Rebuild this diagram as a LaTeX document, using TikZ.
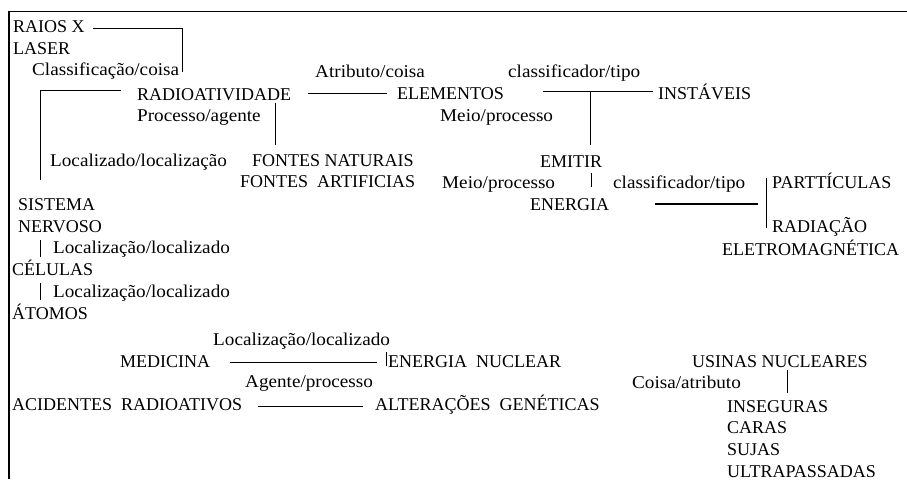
\documentclass[tikz,border=0pt]{standalone}
\usepackage{fontspec}
\setmainfont{Liberation Serif}
\newfontfamily\lblfont[FakeStretch=1.065]{Liberation Serif}
\begin{document}
\begin{tikzpicture}[x=1pt,y=-1pt,
  txt/.style={anchor=base west,inner sep=0pt,font=\fontsize{18}{21}\selectfont},
  lbl/.style={txt,font=\lblfont\fontsize{18}{21}\selectfont},
  ln/.style={line width=1pt},
  thickln/.style={line width=2pt}]
\useasboundingbox (0,0) rectangle (907,479);
\fill[white] (0,0) rectangle (907,479);
\draw[line width=1.3pt] (9,479) -- (9,11.5) -- (907,11.5);

% top-left group
\node[txt] (raios) at (13,32) {RAIOS X};
\node[txt] (laser) at (13,54) {LASER};
\node[lbl] (lclass) at (32,75) {Classificação/coisa};
\node[txt] (radio) at (137,100) {RADIOATIVIDADE};
\node[lbl] (lproc) at (137,121) {Processo/agente};
\node[lbl] (lloc1) at (50,166) {Localizado/localização};
\node[txt] (fnat) at (252,166) {FONTES NATURAIS};
\node[txt] (fart) at (240,187) {FONTES\ \ ARTIFICIAS};
\node[txt] (sist) at (18,210) {SISTEMA};
\node[txt] (nerv) at (18,232) {NERVOSO};
\node[lbl] (lloc2) at (53,253) {Localização/localizado};
\node[txt] (cel) at (12,275) {CÉLULAS};
\node[lbl] (lloc3) at (53,297) {Localização/localizado};
\node[txt] (atom) at (12,319) {ÁTOMOS};

% middle top
\node[lbl] (latr) at (315,77) {Atributo/coisa};
\node[txt] (elem) at (397,99) {ELEMENTOS};
\node[lbl] (lmeio1) at (440,121) {Meio/processo};
\node[lbl] (lclt1) at (508,77) {classificador/tipo};
\node[txt] (inst) at (658,99) {INSTÁVEIS};
\node[txt] (emit) at (540,167) {EMITIR};
\node[lbl] (lmeio2) at (442,188) {Meio/processo};
\node[lbl] (lclt2) at (613,188) {classificador/tipo};
\node[txt] (ener) at (530,210) {ENERGIA};
\node[txt] (part) at (772,188) {PARTTÍCULAS};
\node[txt] (rad) at (772,232) {RADIAÇÃO};
\node[txt] (eletro) at (722,255) {ELETROMAGNÉTICA};

% bottom
\node[lbl] (lloc4) at (213,345) {Localização/localizado};
\node[txt] (med) at (120,367) {MEDICINA};
\node[txt] (enuc) at (388,367) {ENERGIA\ \ NUCLEAR};
\node[lbl] (lagen) at (245,387) {Agente/processo};
\node[txt] (acid) at (12,410) {ACIDENTES\ \ RADIOATIVOS};
\node[txt] (alter) at (375,410) {ALTERAÇÕES\ \ GENÉTICAS};
\node[txt] (usinas) at (692,367) {USINAS NUCLEARES};
\node[lbl] (lcoisa) at (632,388) {Coisa/atributo};
\node[txt] (inseg) at (727,412) {INSEGURAS};
\node[txt] (caras) at (727,433) {CARAS};
\node[txt] (sujas) at (727,455) {SUJAS};
\node[txt] (ultra) at (727,477) {ULTRAPASSADAS};

% connector end points
\coordinate (c1) at (93,28);
\coordinate (c2) at (182,72);
\coordinate (c3) at (121,90);
\coordinate (c4) at (40,180);
\coordinate (c5) at (308,93);
\coordinate (c6) at (387,93);
\coordinate (c7) at (275,103);
\coordinate (c8) at (275,145);
\coordinate (c9) at (40,240);
\coordinate (c10) at (40,257);
\coordinate (c11) at (40,283);
\coordinate (c12) at (40,300);
\coordinate (c13) at (543,91);
\coordinate (c14) at (653,91);
\coordinate (c15) at (590,91);
\coordinate (c16) at (590,145);
\coordinate (c17) at (591,173);
\coordinate (c18) at (591,187);
\coordinate (c19) at (655,204);
\coordinate (c20) at (758,204);
\coordinate (c21) at (766,178);
\coordinate (c22) at (766,228);
\coordinate (c23) at (230,362);
\coordinate (c24) at (377,362);
\coordinate (c25) at (386,352);
\coordinate (c26) at (386,366);
\coordinate (c27) at (258,406);
\coordinate (c28) at (363,406);
\coordinate (c29) at (787,370);
\coordinate (c30) at (787,393);

\draw[ln] (c1) -| (c2);
\draw[ln] (c3) -| (c4);
\draw[ln] (c5) -- (c6);
\draw[ln] (c7) -- (c8);
\draw[ln] (c9) -- (c10);
\draw[ln] (c11) -- (c12);
\draw[ln] (c13) -- (c14);
\draw[ln] (c15) -- (c16);
\draw[ln] (c17) -- (c18);
\draw[thickln] (c19) -- (c20);
\draw[ln] (c21) -- (c22);
\draw[ln] (c23) -- (c24);
\draw[ln] (c25) -- (c26);
\draw[ln] (c27) -- (c28);
\draw[ln] (c29) -- (c30);
\end{tikzpicture}
\end{document}
